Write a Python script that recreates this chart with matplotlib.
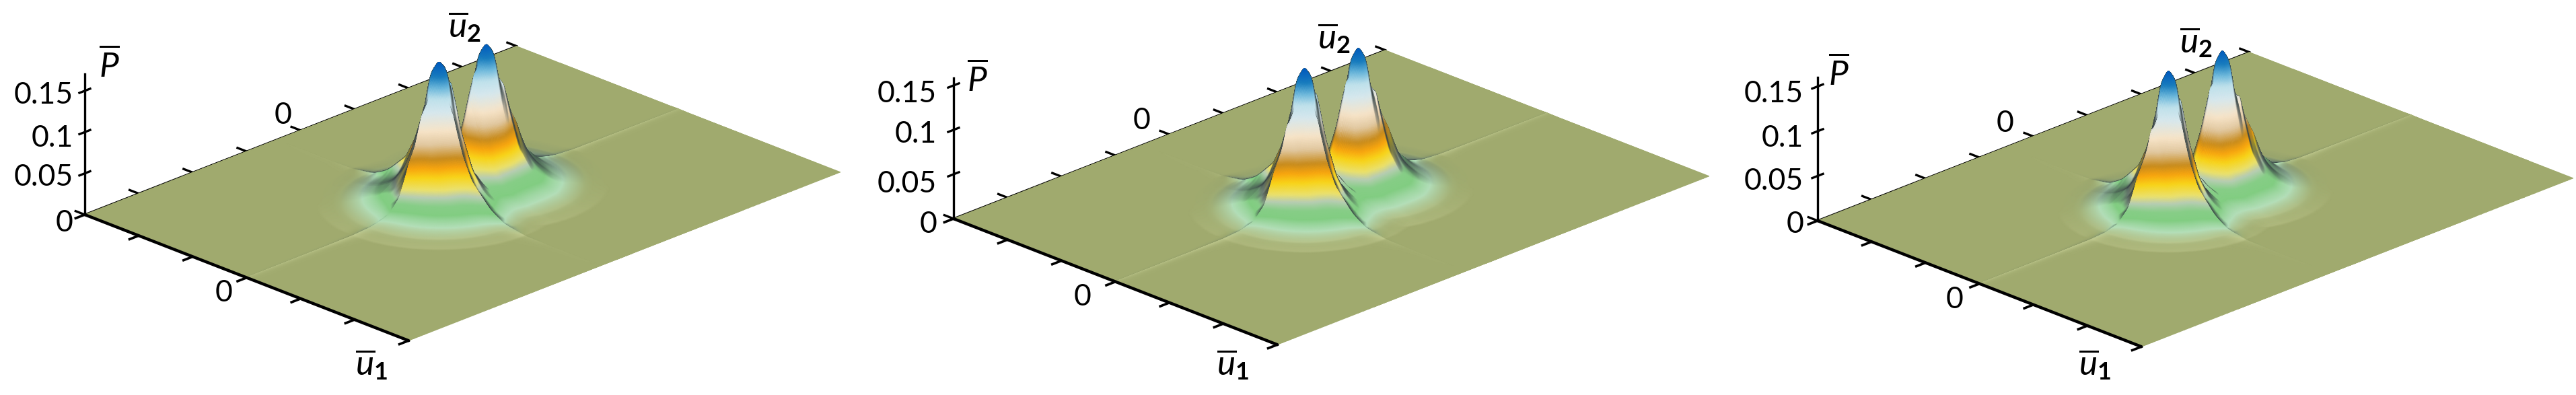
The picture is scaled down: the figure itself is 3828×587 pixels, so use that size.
import matplotlib
matplotlib.use('Agg')
import matplotlib.pyplot as plt
import numpy as np

plt.rcParams['font.family'] = ['Lato', 'DejaVu Sans']
plt.rcParams['mathtext.fontset'] = 'custom'
plt.rcParams['mathtext.rm'] = 'Lato'
plt.rcParams['mathtext.it'] = 'Lato:italic'
plt.rcParams['mathtext.bf'] = 'Lato:bold'

# values, one entry per panel
origin_x = [126, 1417, 2701]
origin_y = [319, 325, 328]
p_scale = [1227, 1320, 1330]
peak_height = [0.170, 0.157, 0.155]
peak_pos = [0.44, 0.50, 0.50]
width_scale = [1.0, 0.94, 0.90]

ptick_vals = [0, 0.05, 0.1, 0.15]
ptick_text = ['0', '0.05', '0.1', '0.15']
ptick_label_y = [[332, 263, 206, 142], [333, 273, 200, 139], [333, 270, 206, 140]]
ptick_label_x = [109, 1392, 2680]
p_top = [0.170, 0.158, 0.160]

plabel_xy = [(162, 97), (1452, 118), (2732, 109)]
u2label_xy = [(690, 40), (1982, 57), (3263, 63)]
u1label_xy = [(552, 542), (1832, 542), (3113, 542)]
u2zero_xy = [(421, 172), (1697, 180), (2980, 183)]
u1zero_xy = [(333, 436), (1609, 441), (2905, 446)]

u1_ticks = [-3, -2, -1, 0, 1, 2, 3]
u2_ticks = [-4, -3, -2, -1, 0, 1, 2, 3, 4]

# surface profiles
radial_r = [0, 0.11, 0.2, 0.3, 0.44, 0.6, 0.85, 1.05, 1.3, 1.6, 5]
radial_p = [0.170, 0.145, 0.095, 0.055, 0.026, 0.014, 0.0075, 0.004, 0.0012, 0.0, 0.0]
crest_u2 = [0, 0.1, 0.2, 0.3, 0.44, 0.6, 0.75, 1.0, 1.17, 1.37, 1.6, 2.5, 4]
crest_p = [0.0, 0.02, 0.06, 0.02, 0.0, 0.020, 0.062, 0.043, 0.014, 0.003, 0.0012, 0.0005, 0.0003]
crest_w_u2 = [0, 0.8, 1.2, 1.6, 2.5, 4]
crest_w = [0.20, 0.20, 0.14, 0.07, 0.04, 0.04]
cross_u1 = [0, 0.14, 0.28, 0.43, 0.61, 0.95, 1.2, 1.6, 2.0, 3.0]
cross_p = [0.0, 0.01, 0.045, 0.041, 0.027, 0.010, 0.003, 0.0004, 0.0001, 0.0]
cross_w_u1 = [0, 0.5, 1.0, 2.0, 3.0]
cross_w = [0.15, 0.15, 0.10, 0.06, 0.05]

# colour by height, in first panel units
col_p = [0, 0.0008, 0.005, 0.012, 0.018, 0.026, 0.033, 0.045, 0.055, 0.065, 0.08, 0.095, 0.115, 0.13, 0.142, 0.155, 0.17]
col_r = [160, 160, 178, 130, 135, 185, 235, 248, 248, 200, 225, 247, 215, 190, 110, 25, 0]
col_g = [170, 172, 222, 205, 205, 205, 225, 212, 165, 140, 200, 228, 232, 225, 185, 125, 90]
col_b = [110, 112, 185, 130, 135, 180, 110, 25, 15, 30, 160, 200, 238, 235, 220, 190, 190]

u1_vec = np.array([80.2, 31.2])
u2_vec = np.array([80.2, -31.3])
dark = np.array([60, 72, 72]) / 255.0
pale = np.array([240, 245, 190]) / 255.0
view = np.array([0.65, -0.65, 0.39])
z_ratio = 11.7


def smooth_curve(xs, ys, width=0.03):
    # mirror around zero and average so the shading shows no kinks
    fine = np.arange(-5, 5.0001, 0.002)
    vals = np.interp(np.abs(fine), xs, ys)
    n = int(width / 0.002)
    kernel = np.hanning(2 * n + 1)
    kernel = kernel / kernel.sum()
    return fine, np.convolve(vals, kernel, mode='same')


rad_x, rad_y = smooth_curve(radial_r, radial_p, 0.05)
cre_x, cre_y = smooth_curve(crest_u2, crest_p, 0.05)
cro_x, cro_y = smooth_curve(cross_u1, cross_p, 0.05)


def grid_axis(lo, hi):
    far = np.arange(lo, hi + 0.001, 0.1)
    mid = np.arange(-2.2, 2.2, 0.01)
    near = np.arange(-0.15, 0.15, 0.004)
    pts = np.concatenate([far, mid, near, [0.0]])
    return np.unique(np.round(pts, 4))


def surface(a, b, pos, ws):
    r1 = np.hypot(a, b - pos) / ws
    r2 = np.hypot(a, b + pos) / ws
    h1 = np.interp(r1, rad_x, rad_y)
    h2 = np.interp(r2, rad_x, rad_y)
    z = (h1**3 + h2**3) ** (1 / 3)
    w = np.interp(np.abs(b), crest_w_u2, crest_w) * ws
    c = np.interp(np.abs(b) - (pos - 0.44), cre_x, cre_y)
    z = z + c * np.exp(-np.abs(a) / w)
    # second crest, only through the nearer peak
    w2 = np.interp(np.abs(a), cross_w_u1, cross_w) * ws
    d = np.interp(np.abs(a) / ws, cro_x, cro_y)
    z = z + d * np.exp(-np.abs(b + pos) / w2)
    return z * 0.170 / z.max()


def project(ox, oy, scale, a, b, p):
    x = ox + (np.asarray(a) + 3) * u1_vec[0] + (np.asarray(b) + 4) * u2_vec[0]
    y = oy + (np.asarray(a) + 3) * u1_vec[1] + (np.asarray(b) + 4) * u2_vec[1] - np.asarray(p) * scale
    return x, y


fig = plt.figure(figsize=(38.28, 5.87), dpi=100)
ax = fig.add_axes([0, 0, 1, 1])
ax.set_xlim(0, 3828)
ax.set_ylim(587, 0)
ax.axis('off')

u1_grid = grid_axis(-3, 3)
u2_grid = grid_axis(-4, 4)[::-1]
A, B = np.meshgrid(u1_grid, u2_grid)

for k in range(3):
    ox, oy, sc = origin_x[k], origin_y[k], p_scale[k]
    Z = surface(A, B, peak_pos[k], width_scale[k])

    dz_b, dz_a = np.gradient(Z, u2_grid, u1_grid)
    nx, ny, nz = -z_ratio * dz_a, -z_ratio * dz_b, np.ones_like(Z)
    norm = np.sqrt(nx**2 + ny**2 + nz**2)
    ndv = (nx * view[0] + ny * view[1] + nz * view[2]) / norm
    ratio = np.clip(ndv, 0, None) / view[2]

    rgb = np.dstack([np.interp(Z, col_p, col_r), np.interp(Z, col_p, col_g),
                     np.interp(Z, col_p, col_b)]) / 255.0
    # the far ridge stays a pale line, no dark side
    fade = (1 - np.exp(-Z / 0.002))[..., None]
    s = 1 - (1 - np.clip(ratio, 0, 1)[..., None] ** 2.0) * fade
    rgb = rgb * s + dark * (1 - s)
    glow = (np.clip(1.8 * (ratio - 1), 0, 0.6) * np.exp(-Z / 0.002))[..., None]
    rgb = rgb * (1 - glow) + pale * glow
    rgb = np.clip(rgb, 0, 1)

    X, Y = project(ox, oy, sc, A, B, Z * peak_height[k] / 0.170)
    ax.pcolormesh(X, Y, rgb, shading='gouraud', rasterized=True, zorder=1)

    # axes
    x, y = project(ox, oy, sc, [-3, -3], [-4, 4], [0, 0])
    ax.plot(x, y, color='black', lw=2.2, solid_capstyle='round', zorder=0.8)
    x, y = project(ox, oy, sc, [-3, 3], [-4, -4], [0, 0])
    ax.plot(x, y, color='black', lw=3.2, solid_capstyle='round', zorder=2)
    x, y = project(ox, oy, sc, [-3, -3], [-4, -4], [0, p_top[k]])
    ax.plot(x, y, color='black', lw=2.4, zorder=2)

    for t in u2_ticks:
        x, y = project(ox, oy, sc, [-3.17, -3], [t, t], [0, 0])
        ax.plot(x, y, color='black', lw=2.4, zorder=0.5)
    for t in u1_ticks:
        x, y = project(ox, oy, sc, [t, t], [-4.17, -4], [0, 0])
        ax.plot(x, y, color='black', lw=2.6, zorder=0.5)
    for t in ptick_vals[1:]:
        x, y = project(ox, oy, sc, [-3, -3], [-4.1, -3.9], [t, t])
        ax.plot(x, y, color='black', lw=2.4, zorder=2)

    for t, yy in zip(ptick_text, ptick_label_y[k]):
        ax.text(ptick_label_x[k], yy, t, fontsize=32, ha='right', va='center')
    ax.text(*u2zero_xy[k], '0', fontsize=32, ha='center', va='center')
    ax.text(*u1zero_xy[k], '0', fontsize=32, ha='center', va='center')
    ax.text(*plabel_xy[k], r'$\overline{P}$', fontsize=37, ha='center', va='center')
    ax.text(*u2label_xy[k], r'$\overline{u}_{\mathbf{2}}$', fontsize=37, ha='center', va='center')
    ax.text(*u1label_xy[k], r'$\overline{u}_{\mathbf{1}}$', fontsize=37, ha='center', va='center')

fig.savefig('out.png', dpi=100)
